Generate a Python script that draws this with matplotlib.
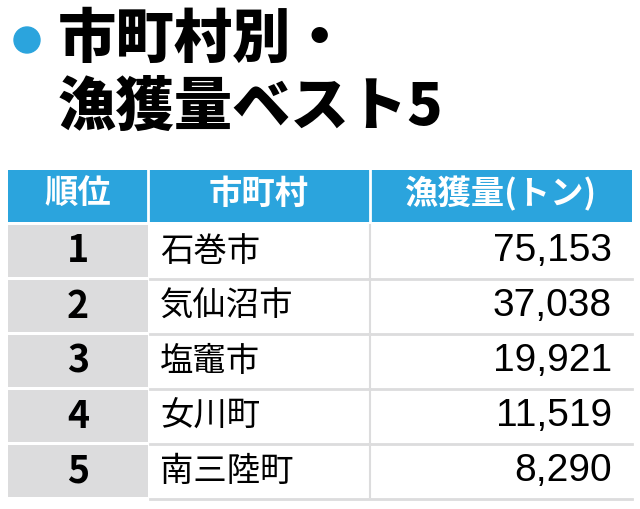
import matplotlib.pyplot as plt
from matplotlib.patches import Rectangle, Circle

plt.rcParams['font.family'] = ['Noto Sans CJK JP', 'DejaVu Sans']

title_lines = ['市町村別・', '漁獲量ベスト5']
headers = ['順位', '市町村', '漁獲量(トン)']
ranks = ['1', '2', '3', '4', '5']
cities = ['石巻市', '気仙沼市', '塩竈市', '女川町', '南三陸町']
catch_tons = [75153, 37038, 19921, 11519, 8290]

BLUE = '#2ba4dd'
GRAY = '#dcdcdd'

fig = plt.figure(figsize=(6.4, 5.09), dpi=100)
ax = fig.add_axes([0, 0, 1, 1])
ax.set_xlim(0, 640)
ax.set_ylim(509, 0)
ax.axis('off')

# title
ax.add_patch(Circle((27, 40), 13, color=BLUE))
ax.text(58, 40, title_lines[0], fontsize=42, fontweight='black', va='center', ha='left')
ax.text(58, 108, title_lines[1], fontsize=42, fontweight='black', va='center', ha='left')

# columns
col_x = [8, 148, 370, 632]
header_top, header_bot = 170, 222
ax.add_patch(Rectangle((col_x[0], header_top), col_x[3] - col_x[0], header_bot - header_top,
                       color=BLUE, lw=0))
for i in (1, 2):
    ax.plot([col_x[i], col_x[i]], [header_top, header_bot], color='white', lw=2)
for i, h in enumerate(headers):
    ax.text((col_x[i] + col_x[i + 1]) / 2, (header_top + header_bot) / 2 - 2, h, color='white',
            fontsize=24, fontweight='bold', ha='center', va='center')

row_h = 55
y0 = 225
for r in range(len(ranks)):
    top = y0 + r * row_h
    ax.add_patch(Rectangle((col_x[0], top), col_x[1] - col_x[0], row_h - 3, color=GRAY, lw=0))
    ax.plot([col_x[1] + 2, col_x[3]], [top + row_h - 1.5, top + row_h - 1.5], color=GRAY, lw=2)
    ax.plot([col_x[2], col_x[2]], [top, top + row_h - 3], color=GRAY, lw=1.5)
    cy = top + (row_h - 3) / 2
    ax.text((col_x[0] + col_x[1]) / 2, cy, ranks[r], fontsize=27, fontweight='bold',
            ha='center', va='center')
    ax.text(160, cy, cities[r], fontsize=24, ha='left', va='center')
    ax.text(612, cy, f'{catch_tons[r]:,}', fontsize=28, ha='right', va='center',
            family=['Liberation Sans', 'DejaVu Sans'])

fig.savefig('out.png', dpi=100)
